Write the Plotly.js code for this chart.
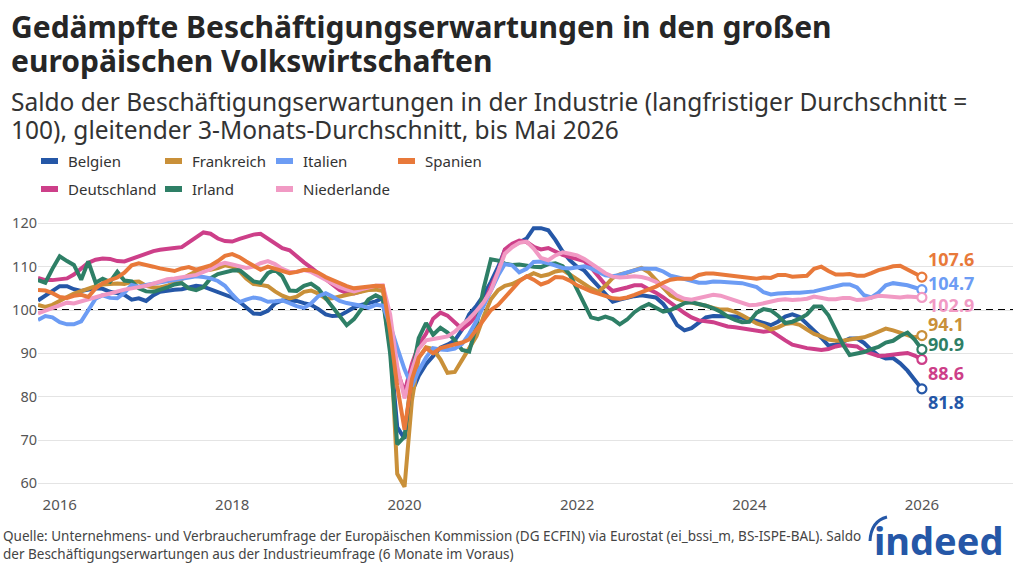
<!DOCTYPE html>
<html lang="de">
<head>
<meta charset="utf-8">
<script src="https://cdn.plot.ly/plotly-3.0.1.min.js"></script>
<style>
  html, body { margin: 0; padding: 0; background: #fff; }
  #chart { width: 1024px; height: 585px; }
</style>
</head>
<body>
<div id="chart"></div>
<script>
// Saldo der Beschäftigungserwartungen (Industrie), langfristiger Durchschnitt = 100,
// gleitender 3-Monats-Durchschnitt, monatlich ab Oktober 2015.
const firstMonth = { year: 2015, month: 10 };

const belgien = [
  102.2, 103.3, 104.6, 105.5, 105.5, 104.8, 104.4, 104.6, 105.0, 104.9,
  104.2, 103.9, 103.5, 102.4, 102.7, 102.1, 103.4, 104.2, 104.5, 104.7,
  104.8, 105.2, 105.6, 105.4, 104.8, 104.2, 103.5, 102.9, 101.9, 100.6,
  99.2, 99.1, 99.8, 101.5, 102.2, 102.2, 102.1, 101.6, 101.2, 100.2,
  99.0, 98.6, 98.7, 99.6, 100.6, 101.2, 101.5, 102.0, 102.8, 91.5,
  73.0, 70.3, 81.0, 84.8, 87.5, 89.5, 91.3, 92.0, 93.0, 95.5,
  99.0, 101.0, 103.4, 106.5, 110.0, 113.8, 114.8, 115.6, 116.5, 118.9,
  118.9, 118.4, 116.2, 113.5, 111.5, 110.0, 109.1, 107.3, 105.5, 103.8,
  101.9, 102.4, 102.9, 103.2, 103.4, 103.2, 102.9, 101.4, 99.1, 96.5,
  95.3, 95.8, 97.2, 98.3, 98.6, 98.6, 98.7, 98.5, 98.2, 97.9,
  97.5, 97.0, 96.5, 97.3, 98.5, 99.0, 98.4, 96.8, 95.3, 93.6,
  91.8, 92.0, 92.7, 93.4, 93.4, 92.4, 90.8, 89.5, 88.8, 88.9,
  87.7, 86.0, 83.9, 81.8
];

const deutschland = [
  107.4, 106.9, 106.9, 107.0, 107.3, 108.2, 109.6, 110.9, 111.6, 111.9,
  111.8, 111.3, 111.2, 111.8, 112.6, 113.1, 113.6, 113.9, 114.2, 114.3,
  114.5, 115.6, 117.0, 117.9, 117.6, 116.5, 115.9, 115.8, 116.4, 116.9,
  117.4, 117.6, 116.4, 115.3, 114.3, 113.8, 112.3, 111.0, 109.8, 108.5,
  107.2, 106.0, 104.6, 103.9, 103.8, 104.3, 105.0, 105.4, 105.4, 97.0,
  86.0, 81.0, 87.5, 92.0, 94.5, 98.0, 99.4, 98.7, 97.0, 95.6,
  96.9, 98.8, 101.2, 105.5, 109.0, 114.0, 115.3, 116.0, 115.7, 114.6,
  114.0, 114.3, 113.5, 112.7, 112.2, 111.8, 111.3, 109.8, 107.8, 105.8,
  104.4, 104.7, 105.2, 105.7, 105.7, 104.8, 104.0, 102.9, 101.6, 100.5,
  99.3, 98.3, 97.6, 97.4, 97.2, 96.7, 96.2, 96.0, 95.8, 95.5,
  95.3, 95.0, 95.2, 94.0, 93.0, 92.0, 91.5, 91.2, 91.0, 90.8,
  91.0, 91.6, 91.9, 91.8, 91.6, 90.5, 89.9, 89.4, 89.5, 89.6,
  89.9, 90.1, 89.5, 88.6
];

const frankreich = [
  101.2, 100.7, 101.2, 102.2, 103.0, 103.8, 104.4, 104.9, 105.5, 105.9,
  106.1, 106.1, 106.0, 106.5, 106.6, 105.6, 105.2, 105.2, 105.6, 106.3,
  107.1, 108.1, 108.9, 109.2, 109.3, 109.7, 110.3, 110.0, 108.9, 107.3,
  106.0, 105.8, 105.5, 104.3, 103.3, 102.7, 103.1, 104.2, 104.5, 103.8,
  102.6, 102.7, 103.1, 103.4, 103.8, 104.4, 104.6, 104.7, 104.4, 95.0,
  62.2, 59.2, 79.0, 89.0, 91.4, 91.0, 88.6, 85.5, 85.7, 88.5,
  91.2, 94.0, 98.5, 102.5, 104.6, 105.6, 106.0, 106.9, 107.8, 108.5,
  107.8, 108.2, 108.9, 109.2, 108.2, 107.1, 106.0, 105.0, 104.2, 105.6,
  107.4, 108.2, 108.6, 109.2, 109.7, 108.7, 107.0, 105.0, 103.4, 102.6,
  102.0, 101.7, 101.4, 101.0, 100.5, 100.1, 100.1, 99.6, 98.8, 97.9,
  96.9, 96.4, 95.5, 96.0, 96.8, 97.0, 96.6, 95.5, 94.5, 93.9,
  93.2, 92.9, 92.9, 93.2, 93.5, 93.7, 94.3, 95.0, 95.7, 95.3,
  94.8, 94.2, 93.7, 94.1
];

const irland = [
  106.9, 106.3, 109.5, 112.4, 111.3, 110.4, 107.0, 111.2, 106.3, 107.2,
  106.5, 108.8, 106.8, 106.6, 105.0, 104.3, 104.2, 104.6, 105.2, 105.9,
  106.2, 105.0, 104.6, 105.3, 107.3, 108.3, 108.8, 109.1, 109.2, 108.1,
  106.6, 106.3, 108.5, 109.3, 107.8, 104.5, 104.4, 105.6, 106.1, 104.9,
  102.7, 100.5, 98.6, 96.5, 97.9, 100.0, 102.4, 103.4, 102.6, 90.0,
  69.0, 70.8, 85.0, 93.5, 97.0, 94.3, 95.9, 94.8, 93.0, 90.8,
  90.4, 96.5, 105.0, 111.7, 111.4, 110.7, 110.4, 110.5, 110.2, 110.0,
  109.9, 110.6, 110.8, 110.1, 108.2, 104.9, 101.4, 98.3, 97.9, 98.5,
  97.9, 96.7, 97.8, 99.5, 100.6, 101.4, 100.5, 99.6, 100.0, 100.7,
  101.6, 101.8, 101.5, 101.0, 100.4, 99.6, 98.5, 97.7, 97.2, 97.3,
  99.4, 100.2, 99.9, 98.7, 97.0, 97.3, 98.0, 99.0, 100.8, 100.8,
  98.8, 95.5, 92.0, 89.6, 89.9, 90.3, 91.0, 91.5, 92.5, 92.9,
  94.0, 94.8, 93.2, 90.9
];

const italien = [
  97.7, 98.6, 98.3, 97.2, 96.7, 96.7, 97.4, 99.8, 102.6, 103.4,
  102.8, 102.7, 104.0, 105.8, 105.4, 105.8, 106.1, 106.4, 106.7, 107.0,
  107.2, 107.4, 107.8, 107.6, 107.3, 106.7, 105.6, 103.6, 101.8, 102.4,
  102.9, 102.6, 101.9, 102.0, 102.2, 101.6, 100.9, 100.5, 101.5, 103.2,
  103.9, 103.1, 102.1, 101.6, 101.4, 101.0, 100.5, 101.2, 101.0, 96.5,
  91.3, 86.3, 82.4, 86.0, 89.0, 91.2, 90.9, 90.8, 91.1, 92.2,
  94.5, 97.5, 101.0, 104.5, 108.0, 110.6, 110.3, 108.7, 109.5, 111.1,
  111.2, 110.8, 110.2, 109.7, 109.6, 109.8, 110.1, 109.6, 108.7, 108.0,
  107.8, 108.1, 108.7, 109.2, 109.6, 109.5, 109.5, 108.9, 107.9, 107.6,
  107.1, 106.8, 106.3, 106.3, 106.6, 106.5, 106.3, 106.3, 106.2, 105.8,
  105.3, 104.1, 103.6, 103.8, 104.0, 104.0, 104.0, 104.1, 104.3, 104.7,
  105.1, 105.6, 105.9, 105.9, 105.2, 103.4, 102.9, 104.0, 105.7, 106.2,
  106.0, 105.7, 105.2, 104.7
];

const niederlande = [
  99.2, 99.8, 100.6, 101.2, 101.7, 101.5, 102.0, 102.6, 103.1, 103.4,
  103.8, 104.3, 104.7, 105.0, 105.2, 105.6, 106.1, 106.6, 107.1, 107.3,
  107.5, 107.8, 108.1, 108.8, 109.4, 110.4, 110.9, 110.5, 110.1, 109.7,
  110.0, 110.8, 111.3, 110.6, 109.5, 108.8, 108.8, 109.2, 108.8, 107.9,
  106.9, 106.2, 105.3, 104.7, 104.3, 104.8, 105.3, 105.6, 105.7, 99.0,
  87.0, 79.6, 86.0, 91.0, 93.0, 93.4, 93.6, 93.9, 95.0, 96.6,
  98.0, 99.8, 101.8, 104.5, 109.3, 113.0, 114.5, 115.5, 115.8, 114.2,
  112.0, 111.5, 112.6, 113.3, 113.0, 112.6, 111.8, 110.8, 109.6, 108.5,
  107.7, 107.5, 107.6, 107.8, 107.6, 107.2, 106.5, 105.6, 104.5, 103.3,
  102.6, 102.4, 102.7, 103.1, 103.5, 103.3, 102.7, 102.1, 101.5, 101.1,
  101.2, 101.6, 102.0, 102.3, 102.5, 102.3, 102.4, 102.6, 103.1, 102.8,
  102.5, 102.5, 102.8, 102.8, 102.3, 102.4, 102.8, 103.3, 103.2, 103.0,
  102.9, 103.1, 103.1, 102.9
];

const spanien = [
  104.6, 104.5, 103.9, 103.0, 102.8, 103.3, 103.5, 103.0, 105.0, 106.2,
  106.9, 107.5, 108.6, 110.3, 110.8, 110.5, 110.0, 109.6, 109.3, 109.0,
  109.6, 109.9, 109.3, 109.7, 110.3, 111.3, 112.5, 112.9, 112.2, 111.2,
  110.2, 109.3, 110.0, 109.5, 109.1, 108.5, 108.8, 109.3, 109.2, 108.6,
  107.6, 106.9, 106.1, 105.5, 105.0, 105.2, 105.4, 105.6, 105.5, 95.0,
  82.5, 72.4, 84.0, 89.0, 91.2, 90.0, 91.2, 91.6, 92.0, 92.5,
  93.2, 95.6, 98.0, 100.0, 101.2, 103.0, 104.9, 106.6, 107.8, 107.0,
  105.9, 106.5, 107.6, 107.5, 106.8, 105.7, 105.0, 104.3, 103.8, 103.2,
  102.7, 102.6, 102.9, 103.5, 104.1, 104.7, 105.4, 106.3, 107.0, 107.2,
  107.1, 107.2, 108.1, 108.4, 108.4, 108.2, 108.0, 107.9, 107.8, 107.5,
  107.2, 107.5, 107.4, 108.1, 108.1, 107.7, 107.7, 107.9, 109.5, 110.0,
  109.0, 108.2, 108.2, 108.3, 107.9, 107.9, 108.5, 109.2, 109.6, 110.1,
  110.2, 109.4, 108.5, 107.6
];

const yearTicks = ['2016', '2018', '2020', '2022', '2024', '2026'];

// Monthly date axis built from the first month
const months = belgien.map((_, i) => {
  const t = firstMonth.month - 1 + i;
  const y = firstMonth.year + Math.floor(t / 12);
  const m = (t % 12) + 1;
  return y + '-' + String(m).padStart(2, '0') + '-01';
});

// Drawing order (later = on top)
const series = [
  { name: 'Belgien',     values: belgien,     color: '#2557a7' },
  { name: 'Deutschland', values: deutschland, color: '#cd3f89' },
  { name: 'Frankreich',  values: frankreich,  color: '#c99039' },
  { name: 'Irland',      values: irland,      color: '#2e7f66' },
  { name: 'Italien',     values: italien,     color: '#6c9cf4' },
  { name: 'Niederlande', values: niederlande, color: '#f19ac4' },
  { name: 'Spanien',     values: spanien,     color: '#e8793a' }
];

// Legend grid: [column, row] per series
const legendSlot = {
  Belgien: [0, 0], Frankreich: [1, 0], Italien: [2, 0], Spanien: [3, 0],
  Deutschland: [0, 1], Irland: [1, 1], Niederlande: [2, 1]
};
const legendColPx = [41, 165, 276, 398];
const legendRowPx = [161, 189];

// Vertical nudges (px) that keep the end labels apart
const labelNudge = {
  Spanien: 18, Italien: 7, Niederlande: -8, Frankreich: 12,
  Irland: 5, Deutschland: -14, Belgien: -13
};

const W = 1024, H = 585;
const M = { l: 38, r: 11, t: 214, b: 91 };
const plotW = W - M.l - M.r, plotH = H - M.t - M.b;
const pxX = px => (px - M.l) / plotW;
const pxY = py => (H - M.b - py) / plotH;

const FONT = 'Noto Sans, Open Sans, sans-serif';
const BRAND = '#2557a7';
const traces = [];
const annotations = [];
const shapes = [];

series.forEach(s => {
  traces.push({
    type: 'scatter', mode: 'lines', name: s.name, showlegend: false,
    x: months, y: s.values,
    line: { color: s.color, width: 4 },
    hoverinfo: 'skip'
  });
});

series.forEach(s => {
  const last = s.values.length - 1;
  traces.push({
    type: 'scatter', mode: 'markers', showlegend: false,
    x: [months[last]], y: [s.values[last]],
    marker: { symbol: 'circle', size: 9, color: '#ffffff', line: { color: s.color, width: 2.2 } },
    cliponaxis: false, hoverinfo: 'skip'
  });
  annotations.push({
    xref: 'x', yref: 'y', x: months[last], y: s.values[last],
    xanchor: 'left', yanchor: 'middle', xshift: 5, yshift: labelNudge[s.name],
    text: '<b>' + s.values[last].toFixed(1) + '</b>',
    showarrow: false, borderpad: 0,
    font: { family: FONT, size: 18, color: s.color }
  });

  // legend entry: short thick bar and the country name
  const [c, r] = legendSlot[s.name];
  const lx = legendColPx[c], ly = legendRowPx[r];
  shapes.push({
    type: 'line', xref: 'paper', yref: 'paper',
    x0: pxX(lx), x1: pxX(lx + 17), y0: pxY(ly), y1: pxY(ly),
    line: { color: s.color, width: 6 }
  });
  annotations.push({
    xref: 'paper', yref: 'paper', x: pxX(lx + 25), y: pxY(ly),
    xanchor: 'left', yanchor: 'middle', showarrow: false,
    text: s.name, font: { family: FONT, size: 15, color: '#333333' }
  });
});

// Title (two lines) and subtitle (two lines)
[
  ['Gedämpfte Beschäftigungserwartungen in den großen', 27],
  ['europäischen Volkswirtschaften', 60]
].forEach(([t, py]) => annotations.push({
  xref: 'paper', yref: 'paper', x: pxX(10), y: pxY(py),
  xanchor: 'left', yanchor: 'middle', showarrow: false, text: '<b>' + t + '</b>',
  borderpad: 0, font: { family: FONT, size: 30, color: '#262626' }
}));

[
  ['Saldo der Beschäftigungserwartungen in der Industrie (langfristiger Durchschnitt =', 101],
  ['100), gleitender 3-Monats-Durchschnitt, bis Mai 2026', 129]
].forEach(([t, py]) => annotations.push({
  xref: 'paper', yref: 'paper', x: pxX(10), y: pxY(py),
  xanchor: 'left', yanchor: 'middle', showarrow: false, text: t,
  borderpad: 0, font: { family: FONT, size: 24.5, color: '#333333' }
}));

annotations.push({
  xref: 'paper', yref: 'paper', x: pxX(1), y: pxY(525),
  xanchor: 'left', yanchor: 'top', align: 'left', showarrow: false,
  text: 'Quelle: Unternehmens- und Verbraucherumfrage der Europäischen Kommission (DG ECFIN) via Eurostat (ei_bssi_m, BS-ISPE-BAL). Saldo<br>der Beschäftigungserwartungen aus der Industrieumfrage (6 Monate im Voraus)',
  font: { family: FONT, size: 13.5, color: '#444444' }
});

annotations.push({
  xref: 'paper', yref: 'paper', x: pxX(872), y: pxY(540),
  xanchor: 'left', yanchor: 'middle', showarrow: false,
  text: '<b>indeed</b>',
  font: { family: FONT, size: 38, color: BRAND }
});

// Reference line at the long-term average
shapes.push({
  type: 'line', xref: 'paper', x0: 0, x1: 1, yref: 'y', y0: 100, y1: 100,
  line: { color: '#000000', width: 2, dash: '7px,5px' }, layer: 'between'
});
// Arc over the logo's "i"
shapes.push({
  type: 'path', xref: 'paper', yref: 'paper',
  path: 'M ' + pxX(870) + ' ' + pxY(541) + ' Q ' + pxX(871) + ' ' + pxY(521) + ' ' + pxX(887) + ' ' + pxY(517),
  line: { color: BRAND, width: 3 }
});

const layout = {
  width: W, height: H,
  margin: M,
  paper_bgcolor: '#ffffff', plot_bgcolor: '#ffffff',
  font: { family: FONT, color: '#555555' },
  showlegend: false,
  xaxis: {
    type: 'date',
    range: ['2015-10-01', '2027-01-22'],
    tickvals: yearTicks.map(y => y + '-01-01'),
    ticktext: yearTicks,
    showgrid: false, zeroline: false, showline: false, ticks: '',
    tickfont: { family: FONT, size: 15, color: '#555555' }
  },
  yaxis: {
    range: [57.54, 122.16],
    tickvals: [60, 70, 80, 90, 100, 110, 120],
    showgrid: true, gridcolor: '#e4e4e4', gridwidth: 1,
    zeroline: false, showline: false, ticks: '',
    tickfont: { family: FONT, size: 14.5, color: '#555555' }
  },
  shapes: shapes,
  annotations: annotations
};

Plotly.newPlot('chart', traces, layout, { displayModeBar: false, staticPlot: true });
</script>
</body>
</html>
